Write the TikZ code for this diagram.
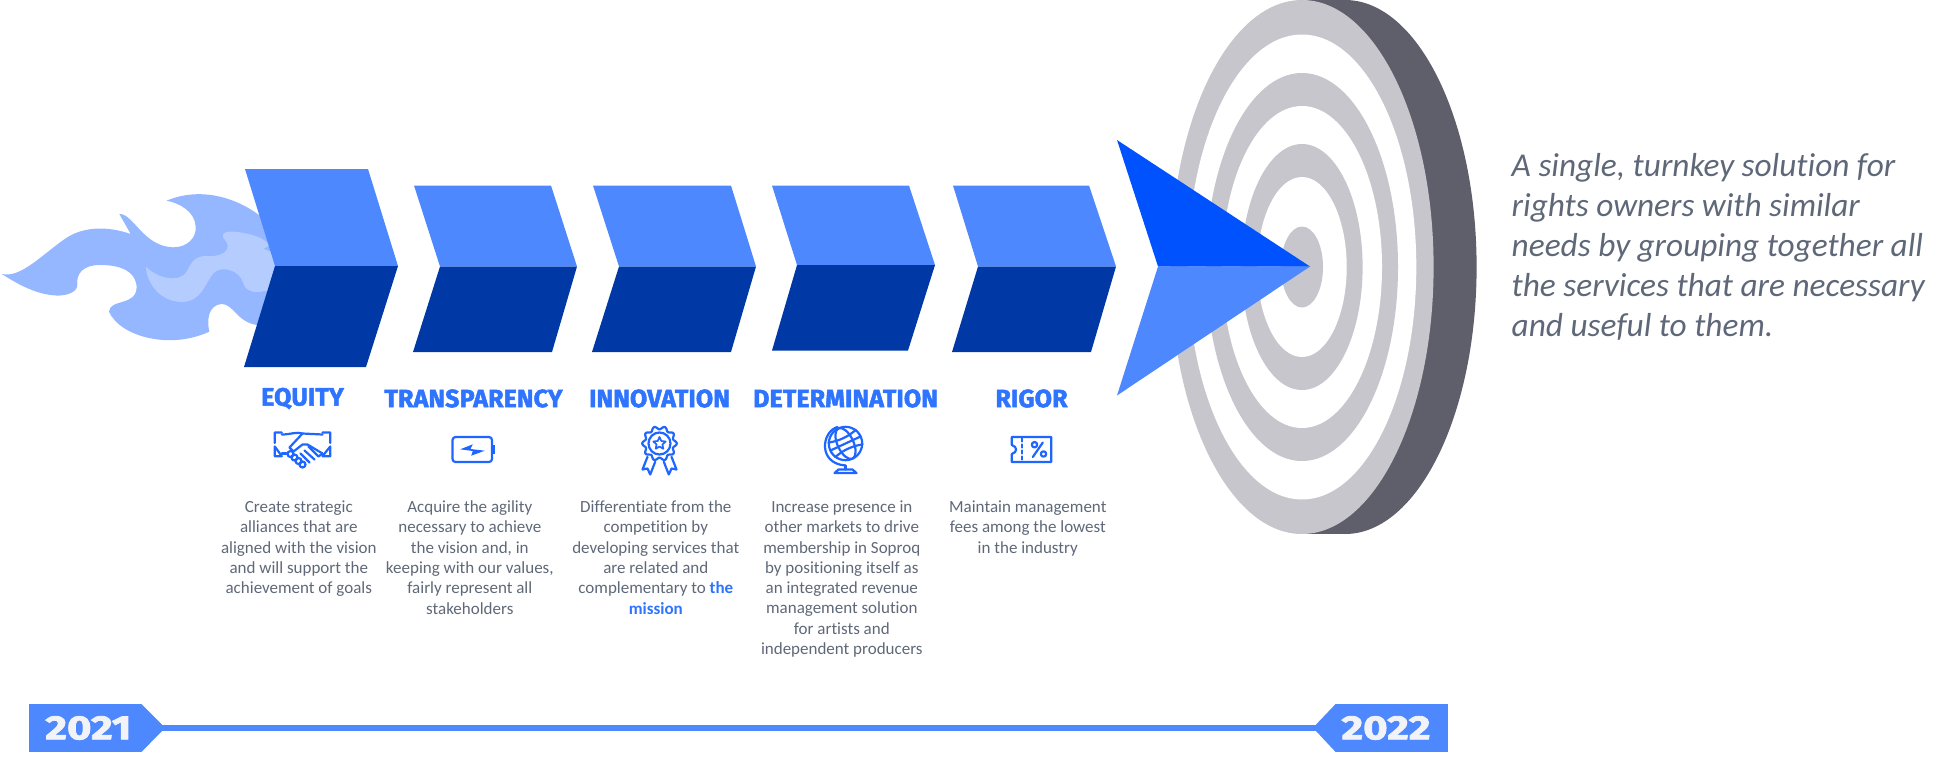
\documentclass[tikz,border=0pt]{standalone}
\usepackage{fontspec}
\usepackage{tikz}
\usetikzlibrary{positioning,shapes.geometric}
\setmainfont[Ligatures=NoCommon]{Carlito}
\newfontfamily\headfont[FakeBold=2,LetterSpace=0.5]{Fira Sans Bold}
\newfontfamily\yearfont[FakeBold=2.5,FakeStretch=1.25]{Fira Sans Bold}
\definecolor{flameA}{HTML}{94B7FF}
\definecolor{flameB}{HTML}{B5CCFF}
\definecolor{chevLight}{HTML}{4D88FF}
\definecolor{chevDark}{HTML}{0039A6}
\definecolor{tipBlue}{HTML}{0052FF}
\definecolor{ringGray}{HTML}{C6C6CC}
\definecolor{backGray}{HTML}{5F5E6B}
\definecolor{bodyGray}{HTML}{5F6878}
\definecolor{headBlue}{HTML}{2E74FF}
\definecolor{iconBlue}{HTML}{1E66FF}
\definecolor{yearWhite}{HTML}{F2F3F7}
\newcommand{\headsize}{\headfont\fontsize{25}{28}\selectfont}
\newcommand{\bodysize}{\fontsize{17}{20.3}\selectfont}
\tikzset{
  every node/.style={
    inner sep=0pt
  },
  headnode/.style={
    font=\headsize,
    text=headBlue
  },
  textnode/.style={
    font=\bodysize,
    text=bodyGray,
    align=center
  },
  yearnode/.style={
    fill=chevLight,
    minimum width=112pt,
    minimum height=48pt,
    text=yearWhite,
    font=\yearfont\fontsize{33.5}{36}\selectfont
  },
  iconline/.style={
    draw=iconBlue,
    line width=2.2pt,
    line join=round,
    line cap=round
  }
}

\begin{document}
\begin{tikzpicture}[x=1pt,y=-1pt]
      \useasboundingbox (0,0) rectangle (1958,779);

      \begin{scope}[shift={(0,150)},x=0.3333pt,y=-0.3333pt]
        \fill [flameA] (5,372) .. controls (60,385) and (120,320) .. (190,270)
          .. controls (250,225) and (330,230) .. (392,252)
          -- (358,192) .. controls (400,190) and (430,290) .. (520,292)
          .. controls (565,292) and (590,260) .. (587,230)
          .. controls (585,185) and (540,160) .. (500,152)
          .. controls (600,110) and (710,140) .. (790,205)
          -- (900,205) -- (900,525) -- (770,525)
          .. controls (710,515) and (700,462) .. (665,462)
          .. controls (625,465) and (620,510) .. (628,545)
          .. controls (510,600) and (360,560) .. (327,485)
          .. controls (330,445) and (410,470) .. (410,410)
          .. controls (405,345) and (320,345) .. (300,345)
          .. controls (250,345) and (228,370) .. (232,405)
          .. controls (232,430) and (190,440) .. (160,436)
          .. controls (100,430) and (50,400) .. (5,372) -- cycle;
        \fill [flameB] (438,350) .. controls (470,385) and (540,400) .. (560,365)
          .. controls (575,335) and (585,318) .. (620,318)
          .. controls (680,322) and (695,290) .. (675,270)
          .. controls (660,255) and (670,243) .. (700,245)
          .. controls (760,250) and (790,265) .. (810,285)
          -- (790,297) -- (830,310) -- (830,420) -- (810,420)
          .. controls (770,430) and (740,430) .. (730,400)
          .. controls (720,360) and (665,345) .. (640,370)
          .. controls (615,400) and (605,456) .. (545,456)
          .. controls (480,455) and (440,400) .. (438,350) -- cycle;
      \end{scope}

      \fill [chevLight] (245,169) -- (368,169) -- (398,266) -- (275,266) -- cycle;
      \fill [chevDark] (275,266) -- (398,266) -- (366,367) -- (244,367) -- cycle;
      \fill [chevLight] (414,185.5) -- (551,185.5) -- (577,266.5) -- (440,266.5) -- cycle;
      \fill [chevDark] (440,266.5) -- (577,266.5) -- (552,352) -- (413,352) -- cycle;
      \fill [chevLight] (593,185.5) -- (731,185.5) -- (756,266.5) -- (619,266.5) -- cycle;
      \fill [chevDark] (619,266.5) -- (756,266.5) -- (731,352) -- (592,352) -- cycle;
      \fill [chevLight] (772,185.5) -- (909,185.5) -- (935,265) -- (797,265) -- cycle;
      \fill [chevDark] (797,265) -- (935,265) -- (908,350.5) -- (772,350.5) -- cycle;
      \fill [chevLight] (953,185.5) -- (1089,185.5) -- (1116,266.5) -- (978,266.5) -- cycle;
      \fill [chevDark] (978,266.5) -- (1116,266.5) -- (1091,352) -- (952,352) -- cycle;

      \fill [backGray] (1302,0) rectangle (1345,534);
      \fill [backGray] (1345,267) ellipse [x radius=131.6, y radius=267];
      \fill [ringGray] (1302,267) ellipse [x radius=131.6, y radius=267];
      \fill [white] (1302,267) ellipse [x radius=114.3, y radius=232.5];
      \fill [ringGray] (1302,267) ellipse [x radius=96, y radius=194];
      \fill [white] (1302,267) ellipse [x radius=80, y radius=161];
      \fill [ringGray] (1302,267) ellipse [x radius=60.6, y radius=123];
      \fill [white] (1302,267) ellipse [x radius=44.7, y radius=90];
      \fill [ringGray] (1302,267) ellipse [x radius=21, y radius=40.5];

      \fill [tipBlue] (1117,140) -- (1310,266.5) -- (1158,266.5) -- cycle;
      \fill [chevLight] (1158,266.5) -- (1310,266.5) -- (1117,395.5) -- cycle;

      \node [headnode] (Title1) at (302.5,398.5) {EQUITY};
      \node [headnode] (Title2) at (473.5,398.5) {TRANSPARENCY};
      \node [headnode] (Title3) at (659.5,398.5) {INNOVATION};
      \node [headnode] (Title4) at (845.5,398.5) {DETERMINATION};
      \node [headnode] (Title5) at (1031.5,398.5) {RIGOR};

      \coordinate [on grid, below=51pt of Title1] (Icon1);
      \coordinate [on grid, below=51pt of Title2] (Icon2);
      \coordinate [on grid, below=45pt of Title3] (Icon3);
      \coordinate [on grid, below=45pt of Title4] (Icon4);
      \coordinate [on grid, below=51pt of Title5] (Icon5);

      \begin{scope}[shift={(Icon1)},iconline]
        \draw (-20.7,-17) -- (-27.7,-17) -- (-27.7,-6.5) (-27.7,-3) -- (-27.7,6.7) -- (-20.7,6.7) -- cycle;
        \draw (20,-17) -- (27.7,-17) -- (27.7,-6.5) (27.7,-3) -- (27.7,6.7) -- (20,6.7) -- cycle;
        \draw (-20.7,-15) .. controls (-12,-15) and (-6,-18) .. (0,-16) -- (20,-15);
        \draw (0,-16) -- (-13,-2) -- (-9,2) -- (0,-5) -- (5,-5) -- (20,4);
        \draw (-20.7,4) -- (-16,4);
        \draw (6,-3) -- (16,7) (2,1) -- (12,10) (-2,4) -- (7,13) (16,7) -- (20,4);
        \draw (-12,4.5) circle [radius=3];
        \draw (-8,8) circle [radius=3];
        \draw (-4,11.5) circle [radius=3];
        \draw (0,15) circle [radius=3];
      \end{scope}

      \begin{scope}[shift={(Icon2)},iconline]
        \draw [rounded corners=3pt] (-21,-12.5) rectangle (18.5,12.5);
        \fill [iconBlue] (19.5,-4.5) rectangle (21.7,4.5);
        \fill [iconBlue] (-13.3,-0.2) -- (-0.7,-5.2) -- (-3,-0.5) -- (11.3,1.2) -- (-2.3,6.2) -- (-0.7,1.5) -- cycle;
      \end{scope}

      \begin{scope}[shift={(Icon3)},iconline]
        \draw plot [domain=0:360,samples=90,smooth] ({(15.7+1.6*cos(10*\x))*cos(\x)},{(15.7+1.6*cos(10*\x))*sin(\x)});
        \draw (0,0) circle [radius=11];
        \node [star, star points=5, star point ratio=2.1, draw=iconBlue, line width=1.7pt, minimum size=13pt] (Star1) at (0,0) {};
        \draw (-12,13.3) -- (-17,26) -- (-12,25) -- (-9.3,31) -- (-4.3,18.3);
        \draw (12,13.3) -- (17,26) -- (12,25) -- (9.3,31) -- (4.3,18.3);
      \end{scope}

      \begin{scope}[shift={(Icon4)},iconline]
        \draw (0,0) circle [radius=16.7];
        \begin{scope}[rotate=25]
          \draw (0,0) ellipse [x radius=8, y radius=16.7];
          \draw (-15,-8) .. controls (-5,-5) and (5,-5) .. (15,-8);
          \draw (-15,8) .. controls (-5,5) and (5,5) .. (15,8);
          \draw (-16.7,0) -- (16.7,0);
        \end{scope}
        \draw (-8,-16.5) .. controls (-24,-12) and (-28,20) .. (0,22);
        \draw (0,22) -- (0,26);
        \draw (-11,29.5) -- (-7,26) -- (7,26) -- (11,29.5) -- cycle;
      \end{scope}

      \begin{scope}[shift={(Icon5)},iconline]
        \draw (-19.7,-12.5) -- (19.7,-12.5) -- (19.7,12.5) -- (-19.7,12.5) -- (-19.7,4.5)
          .. controls (-14,3) and (-14,-3) .. (-19.7,-4.5) -- cycle;
        \draw [dashed, dash pattern=on 3pt off 3pt] (-9.3,-11) -- (-9.3,11);
        \draw (3,-4.8) circle [radius=2.7];
        \draw (12,4.5) circle [radius=2.7];
        \draw (11.3,-7) -- (1.3,7.5);
      \end{scope}

      \node [textnode, below=51pt of Icon1, xshift=-3.7pt] (Text1) {Create strategic\\alliances that are\\aligned with the vision\\and will support the\\achievement of goals};
      \node [textnode, below=51pt of Icon2, xshift=-3.7pt] (Text2) {Acquire the agility\\necessary to achieve\\the vision and, in\\keeping with our values,\\fairly represent all\\stakeholders};
      \node [textnode, below=57pt of Icon3, xshift=-3.7pt] (Text3) {Differentiate from the\\competition by\\developing services that\\are related and\\complementary to \textcolor{headBlue}{\bfseries the}\\\textcolor{headBlue}{\bfseries mission}};
      \node [textnode, below=57pt of Icon4, xshift=-3.7pt] (Text4) {Increase presence in\\other markets to drive\\membership in Soproq\\by positioning itself as\\an integrated revenue\\management solution\\for artists and\\independent producers};
      \node [textnode, below=51pt of Icon5, xshift=-3.7pt] (Text5) {Maintain management\\fees among the lowest\\in the industry};

      \node [anchor=base west, align=left, text=bodyGray, font=\itshape\fontsize{33.3}{40}\selectfont] (Slogan) at (1511.5,336.5) {A single, turnkey solution for\\rights owners with similar\\needs by grouping together all\\the services that are necessary\\and useful to them.};

      \node [yearnode] (Year1) at (85,728) {\hspace*{6.6pt}\raisebox{-2.5pt}{2021}};
      \node [yearnode] (Year2) at (1392,728) {\raisebox{-2.5pt}{2022}\hspace*{12pt}};
      \draw [chevLight, line width=6pt] (Year1.east) to (Year2.west);
      \fill [chevLight] (Year1.north east) -- ++(21,21) -- ++(0,6) -- (Year1.south east) -- cycle;
      \fill [chevLight] (Year2.north west) -- ++(-20,21) -- ++(0,6) -- (Year2.south west) -- cycle;
    \end{tikzpicture}
\end{document}
